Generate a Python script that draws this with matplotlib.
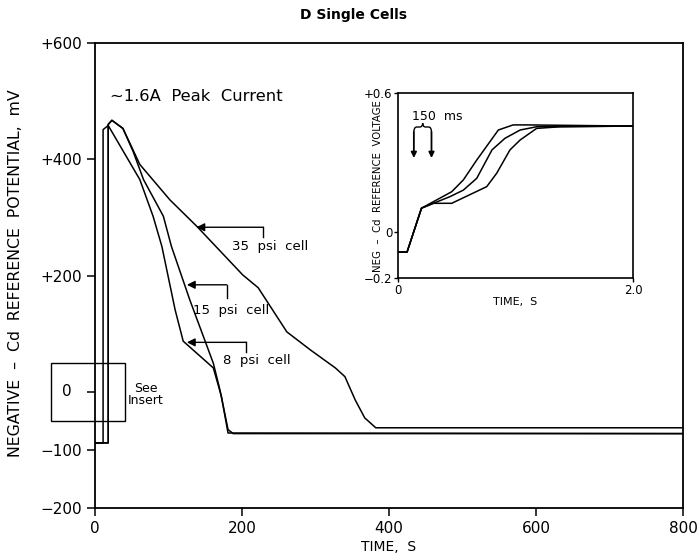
import matplotlib
matplotlib.use('Agg')
import matplotlib.pyplot as plt
from matplotlib.path import Path
from matplotlib.patches import PathPatch, Rectangle

plt.rcParams['font.family'] = ['DejaVu Sans']

# main plot data (time s, potential mV)
t_8 = [0, 11, 11, 18, 61, 79, 91, 109, 120, 161, 172, 181, 800]
v_8 = [-88, -88, 451, 458, 365, 302, 250, 141, 87, 41, -8, -71, -72]
t_15 = [0, 18, 18, 23, 38, 52, 66, 93, 104, 129, 161, 170, 181, 188, 800]
v_15 = [-88, -88, 460, 467, 453, 413, 365, 302, 250, 158, 49, 3, -65, -72, -72]
t_35 = [0, 18, 18, 23, 38, 61, 102, 139, 201, 222, 261, 293, 327, 340, 354, 367, 382, 800]
v_35 = [-88, -88, 460, 467, 453, 391, 330, 284, 201, 179, 103, 72, 41, 26, -14, -45, -62, -62]

y_ticks = [600, 400, 200, 0, -100, -200]
y_tick_labels = ['+600', '+400', '+200', '', '\u2212100', '\u2212200']
x_ticks = [0, 200, 400, 600, 800]

# insert data (time s, voltage V)
ti_fast = [0, 0.077, 0.20, 0.457, 0.556, 0.67, 0.854, 0.98, 1.095, 2.0]
vi_fast = [-0.088, -0.088, 0.102, 0.173, 0.224, 0.310, 0.44, 0.462, 0.462, 0.457]
ti_mid = [0, 0.077, 0.20, 0.443, 0.556, 0.67, 0.80, 0.91, 1.04, 1.18, 2.0]
vi_mid = [-0.088, -0.088, 0.102, 0.152, 0.18, 0.231, 0.354, 0.404, 0.44, 0.454, 0.457]
ti_slow = [0, 0.077, 0.20, 0.30, 0.457, 0.755, 0.84, 0.953, 1.04, 1.18, 1.38, 2.0]
vi_slow = [-0.088, -0.088, 0.102, 0.123, 0.123, 0.195, 0.253, 0.354, 0.397, 0.447, 0.454, 0.457]

# label leaders: text, arrow tip, corner, end of tick, text position
labels = [
    ('35  psi  cell', (138, 283), (229, 283), (229, 267), (186, 250)),
    ('15  psi  cell', (125, 184), (179, 184), (179, 162), (133, 139)),
    ('8  psi  cell', (125, 85), (206, 85), (206, 68), (174, 53)),
]

fig = plt.figure(figsize=(7.0, 5.55), dpi=100)
ax = fig.add_axes([95 / 700, 47 / 555, 588 / 700, 465 / 555])

for t, v in [(t_8, v_8), (t_15, v_15), (t_35, v_35)]:
    ax.plot(t, v, color='black', lw=1.1)

ax.set_xlim(0, 800)
ax.set_ylim(-200, 600)
ax.set_yticks(y_ticks)
ax.set_yticklabels(y_tick_labels)
ax.set_xticks(x_ticks)
ax.tick_params(direction='out', length=6, width=1.1, labelsize=11, colors='black')
for s in ax.spines.values():
    s.set_linewidth(1.3)

ax.set_xlabel('TIME,  S', fontsize=10, labelpad=3)
fig.text(16 / 700, 1 - 273 / 555, 'NEGATIVE  \u2013  Cd  REFERENCE  POTENTIAL,  mV',
         rotation=90, ha='center', va='center', fontsize=11.3)
fig.text(353 / 700, 1 - 15 / 555, 'D Single Cells', ha='center', va='center',
         fontsize=10, fontweight='bold')

ax.text(20, 508, '\u223c1.6A  Peak  Current', fontsize=11.8, va='center')

for txt, tip, corner, end, pos in labels:
    ax.annotate('', xy=tip, xytext=corner,
                arrowprops=dict(arrowstyle='-|>', color='black', lw=1.0,
                                mutation_scale=12, shrinkA=0, shrinkB=0))
    ax.plot([corner[0], end[0]], [corner[1], end[1]], color='black', lw=1.0)
    ax.text(pos[0], pos[1], txt, fontsize=9.5, va='center')

# "See Insert" box and the 0 label inside it
ax.add_patch(Rectangle((-60, -50), 101, 100, fill=False, lw=1.0,
                       edgecolor='black', clip_on=False))
ax.text(-38, 0, '0', fontsize=11, ha='center', va='center')
ax.text(69, -5, 'See\nInsert', fontsize=9, ha='center', va='center',
        linespacing=0.95)

# inset
axi = fig.add_axes([398 / 700, 1 - 278 / 555, 235 / 700, 185 / 555])
for t, v in [(ti_fast, vi_fast), (ti_mid, vi_mid), (ti_slow, vi_slow)]:
    axi.plot(t, v, color='black', lw=1.1)
axi.set_xlim(0, 2.0)
axi.set_ylim(-0.2, 0.6)
axi.set_xticks([0, 2.0])
axi.set_xticklabels(['0', '2.0'])
axi.set_yticks([0.6, 0, -0.2])
axi.set_yticklabels(['+0.6', '0', '\u22120.2'])
axi.tick_params(direction='out', length=3, width=1.0, labelsize=8.5, pad=1)
for s in axi.spines.values():
    s.set_linewidth(1.2)
axi.set_xlabel('TIME,  S', fontsize=8, labelpad=0)
fig.text(378 / 700, 1 - 186 / 555, 'NEG  \u2013  Cd  REFERENCE  VOLTAGE',
         rotation=90, ha='center', va='center', fontsize=7.3)

# 150 ms marker
xl, xr = 0.135, 0.285
xm = (xl + xr) / 2
y_top, y_sh, y_cusp, y_bot = 0.431, 0.453, 0.47, 0.319
for x in (xl, xr):
    axi.annotate('', xy=(x, y_bot), xytext=(x, y_top),
                 arrowprops=dict(arrowstyle='-|>', color='black', lw=1.3,
                                 mutation_scale=8, shrinkA=0, shrinkB=0))
verts = [(xl, y_top), (xl, y_sh), (xl + 0.025, y_sh), (xm - 0.025, y_sh),
         (xm, y_sh), (xm, y_cusp),
         (xr, y_top), (xr, y_sh), (xr - 0.025, y_sh), (xm + 0.025, y_sh),
         (xm, y_sh), (xm, y_cusp)]
codes = [Path.MOVETO, Path.CURVE3, Path.CURVE3, Path.LINETO, Path.CURVE3, Path.CURVE3] * 2
axi.add_patch(PathPatch(Path(verts, codes), fill=False, lw=1.0, edgecolor='black'))
axi.text(0.12, 0.50, '150  ms', fontsize=9, va='center')

fig.savefig('out.png', dpi=100)
